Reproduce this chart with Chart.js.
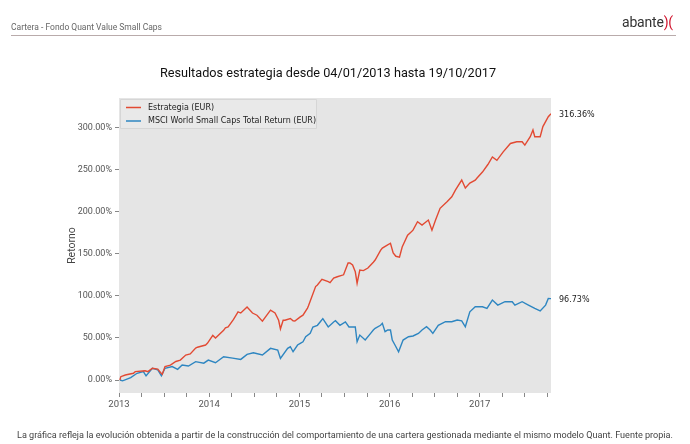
<!DOCTYPE html>
<html><head><meta charset="utf-8">
<script src="https://cdn.jsdelivr.net/npm/chart.js@4.4.1/dist/chart.umd.min.js"></script>
<style>
html,body{margin:0;padding:0;background:#fff;width:690px;height:444px;overflow:hidden;}
#wrap{position:relative;width:690px;height:444px;}
canvas{position:absolute;left:0;top:0;}
.hdr{position:absolute;left:11px;top:22px;font:8.5px Roboto,sans-serif;color:#666;}
.rule{position:absolute;left:11px;top:35px;width:665px;height:1px;background:#b9abab;}
.logo{position:absolute;left:622px;top:14px;font:14px Roboto,sans-serif;color:#333;letter-spacing:-0.2px;}
.logo b{color:#d0112b;font-weight:normal;}
.title{position:absolute;left:0;width:656px;top:65px;text-align:center;font:12.7px Roboto,sans-serif;color:#111;}
.foot{position:absolute;left:17px;top:430px;font:9.1px Roboto,sans-serif;color:#444;white-space:nowrap;}
</style></head>
<body><div id="wrap">
<canvas id="c" width="690" height="444"></canvas>
<div class="hdr">Cartera - Fondo Quant Value Small Caps</div>
<div class="logo">abante<b>)(</b></div>
<div class="rule"></div>
<div class="title">Resultados estrategia desde 04/01/2013 hasta 19/10/2017</div>
<div class="foot">La gráfica refleja la evolución obtenida a partir de la construcción del comportamiento de una cartera gestionada mediante el mismo modelo Quant. Fuente propia.</div>
</div>
<script>
// dates as decimal years
const stratDates = [2013.01,2013.02,2013.07,2013.16,2013.18,2013.29,2013.32,2013.37,2013.43,2013.46,2013.48,2013.51,2013.57,2013.63,2013.68,2013.74,2013.79,2013.85,2013.87,2013.96,2013.98,2014.04,2014.07,2014.16,2014.18,2014.21,2014.27,2014.32,2014.35,2014.42,2014.48,2014.53,2014.59,2014.68,2014.73,2014.77,2014.79,2014.82,2014.84,2014.90,2014.93,2014.95,2015.01,2015.04,2015.09,2015.10,2015.18,2015.20,2015.25,2015.32,2015.34,2015.38,2015.42,2015.49,2015.54,2015.56,2015.59,2015.62,2015.64,2015.67,2015.71,2015.76,2015.82,2015.84,2015.90,2015.92,2015.97,2016.01,2016.04,2016.07,2016.11,2016.14,2016.20,2016.23,2016.26,2016.31,2016.36,2016.43,2016.47,2016.51,2016.56,2016.64,2016.69,2016.73,2016.80,2016.84,2016.89,2016.95,2016.97,2017.03,2017.09,2017.14,2017.19,2017.26,2017.34,2017.41,2017.47,2017.50,2017.56,2017.59,2017.61,2017.67,2017.70,2017.76,2017.79];
const stratValues = [0,4,6,8,10,11,10,14,13,9,7,16,17.8,22,23.7,29.7,31,38,39,41.6,43.6,53,50,59,62,63,72,81,79.6,86.7,79.6,77,70,83,79.6,71,60.6,71,71,73,70.4,70,75,77,85.5,88,111,113,119.5,116.8,115.6,121,122.7,125,139,139,136.6,128.6,115,130.6,130,133,140,142.5,154,156.8,160,162.5,151,147,146,158,172,175,178,188,184,190,178,190,204,212,217.7,225.6,237.5,228,234,237.5,240,247,256,265,261,271,281,283,283,279,289,297,289,289,301,312.7,316.36];
const msciDates = [2013.01,2013.04,2013.13,2013.20,2013.27,2013.30,2013.37,2013.43,2013.47,2013.51,2013.59,2013.65,2013.70,2013.77,2013.85,2013.94,2013.99,2014.07,2014.16,2014.26,2014.35,2014.42,2014.49,2014.59,2014.68,2014.76,2014.79,2014.87,2014.90,2014.93,2014.98,2015.01,2015.04,2015.07,2015.12,2015.15,2015.20,2015.23,2015.26,2015.32,2015.38,2015.40,2015.45,2015.51,2015.55,2015.62,2015.64,2015.67,2015.73,2015.79,2015.82,2015.84,2015.90,2015.92,2015.95,2015.98,2016.01,2016.03,2016.06,2016.10,2016.15,2016.21,2016.26,2016.32,2016.36,2016.41,2016.45,2016.48,2016.54,2016.62,2016.69,2016.75,2016.80,2016.84,2016.89,2016.95,2017.03,2017.08,2017.14,2017.20,2017.28,2017.36,2017.39,2017.47,2017.54,2017.61,2017.67,2017.73,2017.76,2017.79];
const msciValues = [0,-1,2.8,8,10,5,14,12,5,14,16,12.7,17.8,16.6,21.8,20,23.7,20.6,27.7,26,24.5,30.5,32.4,29.7,37.6,35.6,25.7,37.6,39.5,33.6,41.6,43.6,45.5,51.4,55.4,63,65,69,73,63,69,70.4,65,69,63,63,45.5,53.4,47.5,55.4,59.4,61.4,65,67.3,57.4,59.4,59.4,47.5,41.6,33.6,47.5,51.4,52.3,55.4,59.4,63.3,59.4,55.4,65,69.3,69.3,71.3,70.4,63.3,81,87,87,85,95,89,93,93,89,93,89,85,82,89,97,96.73];
const seriesLabels = ['Estrategia (EUR)','MSCI World Small Caps Total Return (EUR)'];
const seriesColors = ['#e24a33','#2e86c1'];
const yTicks = [0,50,100,150,200,250,300];

const toXY = (d,v)=>d.map((x,i)=>({x:x,y:v[i]}));

const deco = {
  id:'deco',
  beforeDatasetsDraw(chart){
    const a=chart.chartArea, c=chart.ctx;
    c.save(); c.fillStyle='#e5e5e5'; c.fillRect(a.left,a.top,a.right-a.left,a.bottom-a.top); c.restore();
  },
  afterDraw(chart){
    const a=chart.chartArea, c=chart.ctx, ys=chart.scales.y;
    c.save();
    // legend
    c.fillStyle='#e9e9e9'; c.strokeStyle='#d6d6d6'; c.lineWidth=1;
    c.beginPath(); c.rect(a.left+1.5,a.top+1.5,196,29); c.fill(); c.stroke();
    c.font='8px "DejaVu Sans"'; c.textBaseline='middle'; c.textAlign='left';
    chart.data.datasets.forEach((ds,i)=>{
      const yy=a.top+9.5+i*13.5;
      c.strokeStyle=ds.borderColor; c.lineWidth=1.5;
      c.beginPath(); c.moveTo(a.left+7,yy); c.lineTo(a.left+22,yy); c.stroke();
      c.fillStyle='#222'; c.fillText(ds.label,a.left+29,yy);
      // end label
      const last=ds.data[ds.data.length-1].y;
      c.fillText(last.toFixed(2)+'%',a.right+8,ys.getPixelForValue(last)+1.5);
    });
    // y title
    c.translate(72,(a.top+a.bottom)/2); c.rotate(-Math.PI/2);
    c.textAlign='center'; c.fillStyle='#444'; c.font='10.5px Roboto';
    c.fillText('Retorno',0,0);
    c.restore();
  }
};

new Chart(document.getElementById('c'),{
  type:'line',
  data:{datasets:[
    {label:seriesLabels[0],data:toXY(stratDates,stratValues),borderColor:seriesColors[0],borderWidth:1.4,pointRadius:0,tension:0,fill:false},
    {label:seriesLabels[1],data:toXY(msciDates,msciValues),borderColor:seriesColors[1],borderWidth:1.4,pointRadius:0,tension:0,fill:false}
  ]},
  options:{
    responsive:false,animation:false,
    layout:{padding:{left:0,right:139,top:98,bottom:0}},
    plugins:{legend:{display:false},tooltip:{enabled:false}},
    scales:{
      x:{type:'linear',min:2013,max:2017.79,
        afterFit(s){s.height=51;},
        border:{display:false},
        grid:{drawOnChartArea:false,drawTicks:true,tickLength:4,tickColor:'#888'},
        ticks:{stepSize:0.25,includeBounds:false,autoSkip:false,maxRotation:0,padding:2,color:'#555',font:{family:'Roboto',size:9.5},
          callback:v=>Number.isInteger(v)?String(v):''}},
      y:{min:-15.4,max:335,
        afterFit(s){s.width=119;},
        afterBuildTicks(s){s.ticks=yTicks.map(v=>({value:v}));},
        border:{display:false},
        grid:{drawOnChartArea:false,drawTicks:true,tickLength:4,tickColor:'#888'},
        ticks:{padding:3,color:'#555',font:{family:'Roboto',size:9},callback:v=>v.toFixed(2)+'%'}}
    }
  },
  plugins:[deco]
});
</script></body></html>
